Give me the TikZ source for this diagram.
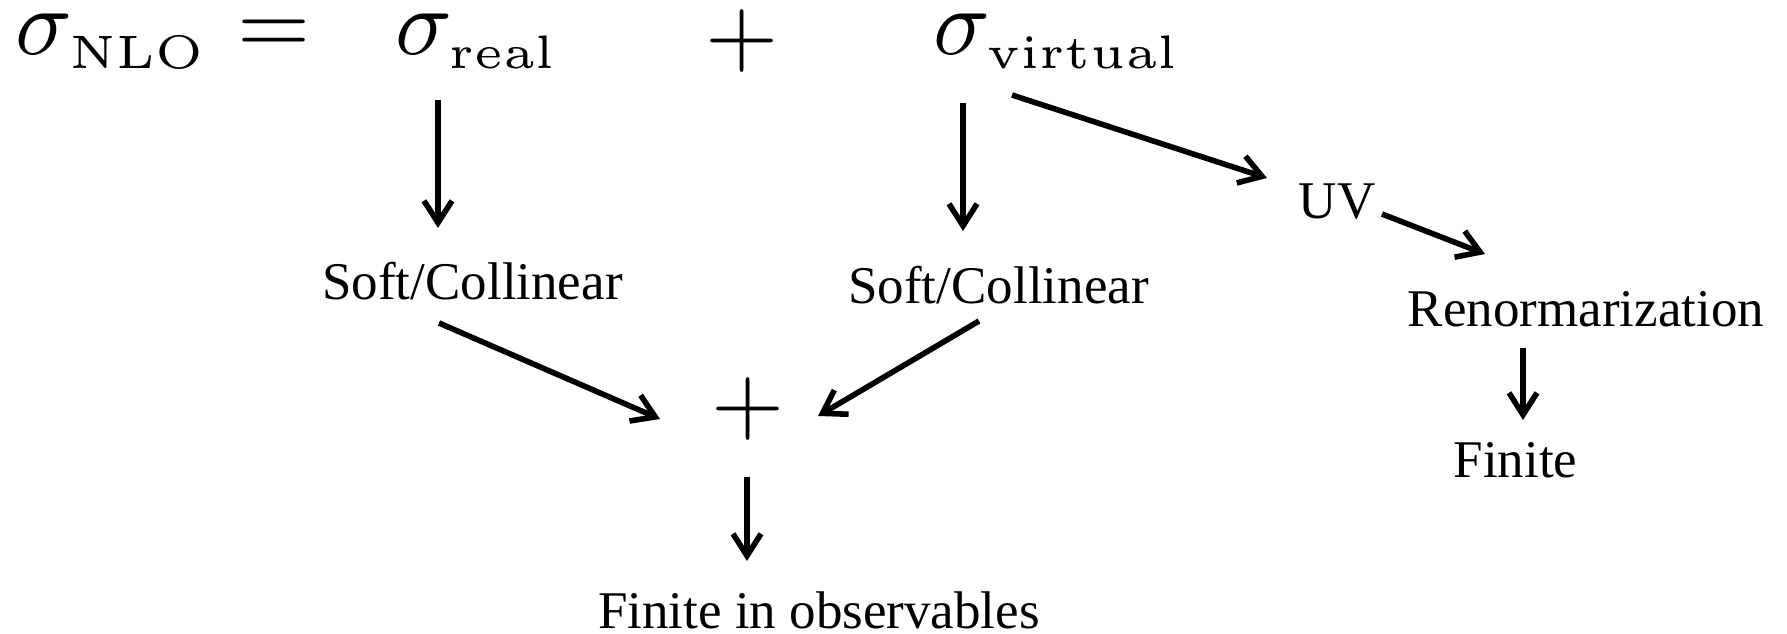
\documentclass[tikz,border=0pt]{standalone}
\usepackage[no-math]{fontspec}
\setmainfont{Liberation Serif}
\usepackage{graphicx}
\usetikzlibrary{arrows.meta}
\newcommand\BM[1]{\scalebox{4.7}{$#1$}}
\newcommand\SX[1]{\sigma_{\scriptscriptstyle\mathrm{#1}}}
\tikzset{
  lbl/.style={inner sep=0pt, outer sep=0pt, anchor=base, font=\fontsize{26.5}{30}\selectfont},
  mth/.style={inner sep=0pt, outer sep=0pt, anchor=base west},
  op/.style={inner sep=0pt, outer sep=0pt, anchor=base},
  arr/.style={line width=2.8pt, -{Straight Barb[length=11pt,width=14pt]}}
}
\begin{document}
\begin{tikzpicture}[x=0.5pt,y=-0.5pt]
\useasboundingbox (0,0) rectangle (1787,633);
% top formula
\node[mth] (snlo) at (16,54) {\BM{\SX{NLO}}};
\node[op] (eq) at (274.5,54.5) {\BM{=}};
\node[mth] (sreal) at (395,54) {\BM{\SX{real}}};
\node[op] (plus1) at (742.5,64.5) {\BM{+}};
\node[mth] (svirt) at (933,54) {\BM{\SX{virtual}}};
% labels
\node[lbl] (sc1) at (472.5,299) {Soft/Collinear};
\node[lbl] (sc2) at (998.5,303) {Soft/Collinear};
\node[lbl] (uv) at (1337,218) {UV};
\node[lbl] (ren) at (1586,326) {Renormarization};
\node[lbl] (fin) at (1515.5,477) {Finite};
\node[op] (plus2) at (748,432) {\BM{+}};
\node[lbl] (fobs) at (819,628) {Finite in observables};
% connector ends
\coordinate (a1s) at (438,100);  \coordinate (a1e) at (438,228);
\coordinate (a2s) at (963,103);  \coordinate (a2e) at (963,231);
\coordinate (a3s) at (1012,95);  \coordinate (a3e) at (1267,178);
\coordinate (a4s) at (1382,214); \coordinate (a4e) at (1485,254);
\coordinate (a5s) at (1523,348); \coordinate (a5e) at (1523,420);
\coordinate (a6s) at (439,323);  \coordinate (a6e) at (660,419);
\coordinate (a7s) at (979,321);  \coordinate (a7e) at (818,416);
\coordinate (a8s) at (747,477);  \coordinate (a8e) at (747,561);
\draw[arr] (a1s) -- (a1e);
\draw[arr] (a2s) -- (a2e);
\draw[arr] (a3s) -- (a3e);
\draw[arr] (a4s) -- (a4e);
\draw[arr] (a5s) -- (a5e);
\draw[arr] (a6s) -- (a6e);
\draw[arr] (a7s) -- (a7e);
\draw[arr] (a8s) -- (a8e);
\end{tikzpicture}
\end{document}
